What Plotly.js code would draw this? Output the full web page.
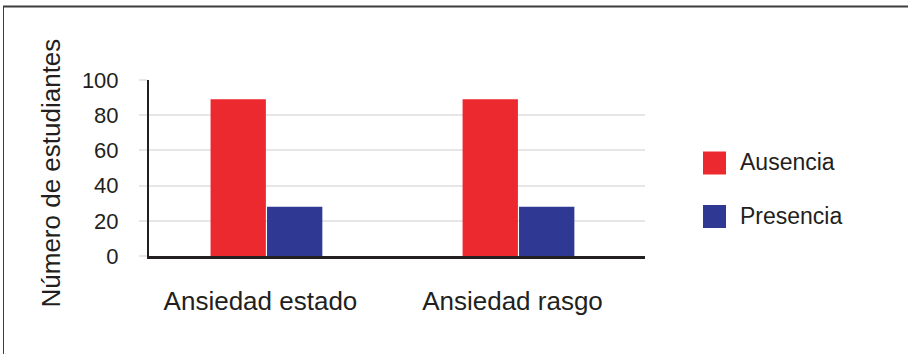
<!DOCTYPE html>
<html>
<head>
<meta charset="utf-8">
<script src="https://cdn.plot.ly/plotly-3.0.1.min.js"></script>
<style>
  html, body { margin: 0; padding: 0; background: #ffffff; }
  #chart { width: 908px; height: 354px; }
</style>
</head>
<body>
<div id="chart"></div>
<script>
// Anxiety type vs. number of students, by absence / presence
const categories = ['Ansiedad estado', 'Ansiedad rasgo'];
const seriesNames = ['Ausencia', 'Presencia'];
const ausencia = [89, 89];
const presencia = [28, 28];
const yTicks = [0, 20, 40, 60, 80, 100];
const yTitle = 'Número de estudiantes';

const colors = ['#ec292e', '#2f3893'];
const textColor = '#231f20';
const font = 'Liberation Sans, Arial, Helvetica, sans-serif';

const W = 908, H = 354;
const M = { l: 149, r: 263, t: 80, b: 98 };
const plotW = W - M.l - M.r, plotH = H - M.t - M.b;
const px2x = px => (px - M.l) / plotW;
const px2y = py => 1 - (py - M.t) / plotH;

const traces = [ausencia, presencia].map((vals, i) => ({
  type: 'bar',
  x: categories,
  y: vals,
  name: seriesNames[i],
  marker: { color: colors[i], line: { width: 0 } },
  showlegend: false,
  hoverinfo: 'x+y+name'
}));

// Hand-built legend: large square swatches with labels on the right
const legendTop = [163, 216.5];
const shapes = [];
const annotations = [];
seriesNames.forEach((name, i) => {
  shapes.push({
    type: 'rect', xref: 'paper', yref: 'paper',
    x0: px2x(703), x1: px2x(726),
    y0: px2y(legendTop[i] - 11.5), y1: px2y(legendTop[i] + 11.5),
    fillcolor: colors[i], line: { width: 0 }
  });
  annotations.push({
    xref: 'paper', yref: 'paper',
    x: px2x(738), y: px2y(legendTop[i] - 1),
    xanchor: 'left', yanchor: 'middle',
    text: name, showarrow: false,
    font: { family: font, size: 23, color: textColor }
  });
});

// Vertical axis title, set beside the tick labels
annotations.push({
  xref: 'paper', yref: 'paper',
  x: px2x(50), y: px2y(173.5),
  xanchor: 'center', yanchor: 'middle',
  textangle: -90,
  text: yTitle, showarrow: false,
  font: { family: font, size: 26, color: textColor }
});

// Frame: heavy rule along the top, thin rule down the left side
shapes.push({
  type: 'line', xref: 'paper', yref: 'paper',
  x0: px2x(3), x1: px2x(908), y0: px2y(6.5), y1: px2y(6.5),
  line: { color: '#3d3d3d', width: 2 }
});
shapes.push({
  type: 'line', xref: 'paper', yref: 'paper',
  x0: px2x(3.5), x1: px2x(3.5), y0: px2y(6), y1: px2y(354),
  line: { color: '#3d3d3d', width: 1 }
});

const layout = {
  width: W, height: H,
  margin: M,
  paper_bgcolor: '#ffffff',
  plot_bgcolor: '#ffffff',
  barmode: 'group',
  bargap: 0.552,
  bargroupgap: 0.02,
  showlegend: false,
  font: { family: font, color: textColor },
  xaxis: {
    type: 'category',
    range: [-0.466, 1.502],
    showgrid: false,
    zeroline: false,
    showline: true,
    linecolor: textColor,
    linewidth: 2.5,
    ticks: '',
    ticklabelstandoff: 20,
    ticklabelshift: -6,
    tickfont: { family: font, size: 26, color: textColor },
    fixedrange: true
  },
  yaxis: {
    range: [0, 100],
    tickvals: yTicks,
    ticktext: yTicks.map(String),
    showgrid: true,
    gridcolor: '#e6e6e6',
    gridwidth: 2,
    zeroline: false,
    showline: true,
    linecolor: textColor,
    linewidth: 2,
    ticks: 'outside',
    ticklen: 8,
    tickwidth: 2,
    tickcolor: '#e6e6e6',
    ticklabelstandoff: 16,
    tickfont: { family: font, size: 22, color: textColor },
    fixedrange: true
  },
  shapes: shapes,
  annotations: annotations
};

Plotly.newPlot('chart', traces, layout, { displayModeBar: false, staticPlot: true });
</script>
</body>
</html>
